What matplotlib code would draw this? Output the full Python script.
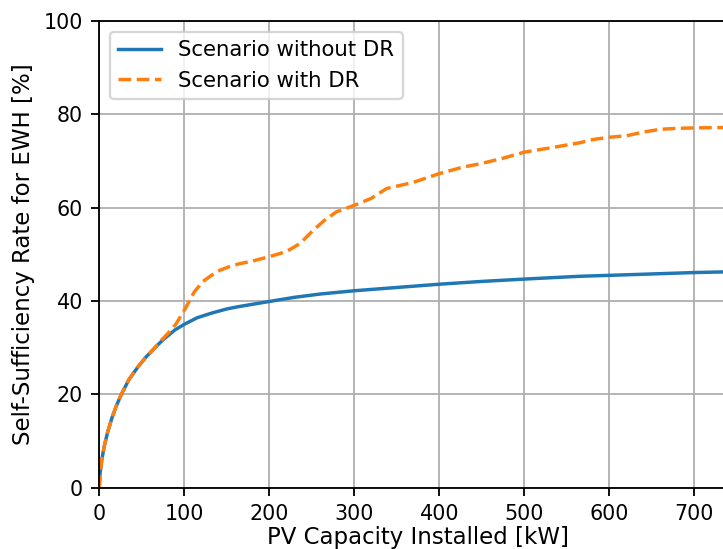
import matplotlib
matplotlib.use('Agg')
from matplotlib import pyplot as plt

# PV capacity [kW] and self-sufficiency [%]
pv_without = [0, 1, 3, 6, 10, 15, 20, 26, 35, 46, 55, 65, 75, 89, 100, 115, 132,
              150, 164, 200, 230, 260, 300, 350, 400, 450, 500, 565, 600, 650,
              700, 750]
ssr_without = [0, 3.2, 6.0, 9.0, 12.0, 15.0, 17.5, 20.0, 23.2, 26.0, 28.0, 29.9,
               31.7, 33.8, 35.0, 36.4, 37.4, 38.3, 38.8, 39.9, 40.8, 41.5, 42.2,
               42.9, 43.6, 44.2, 44.7, 45.3, 45.5, 45.8, 46.1, 46.3]

pv_with = [0, 1, 3, 6, 10, 15, 20, 26, 35, 46, 55, 65, 73, 80, 90, 100, 112, 122,
           132, 142, 152, 165, 179, 200, 213, 224, 236, 252, 265, 279, 300, 320,
           338, 369, 400, 428, 448, 475, 500, 530, 565, 581, 600, 620, 640, 660,
           680, 700, 750]
ssr_with = [0, 3.2, 6.0, 9.0, 12.0, 15.0, 17.5, 20.0, 23.2, 26.0, 28.0, 29.9, 31.6,
            32.9, 35.0, 38.0, 42.0, 44.2, 45.5, 46.6, 47.3, 48.0, 48.5, 49.5, 50.2,
            51.0, 52.3, 55.2, 57.3, 59.1, 60.5, 62.0, 64.1, 65.4, 67.3, 68.7, 69.4,
            70.6, 71.9, 72.8, 73.9, 74.6, 75.1, 75.4, 76.2, 76.8, 77.0, 77.1, 77.2]

dpi = 165
fig = plt.figure(figsize=(723 / dpi, 549 / dpi), dpi=dpi)
# axes runs past the right edge, as in the (cropped) reference
ax = fig.add_axes([0.1373, 0.1117, 0.8817, 0.850])

ax.plot(pv_without, ssr_without, '-', color='C0', label='Scenario without DR')
ax.plot(pv_with, ssr_with, '--', color='C1', label='Scenario with DR')

ax.set_xlim(0, 750)
ax.set_ylim(0, 100)
ax.set_xticks(range(0, 701, 100))
ax.set_yticks(range(0, 101, 20))
ax.tick_params(labelsize=9)
ax.grid(True)
ax.set_xlabel('PV Capacity Installed [kW]', fontsize=10, labelpad=1)
ax.set_ylabel('Self-Sufficiency Rate for EWH [%]', fontsize=10)
ax.legend(loc='upper left', fontsize=9.3)

fig.savefig('out.png', dpi=dpi)
